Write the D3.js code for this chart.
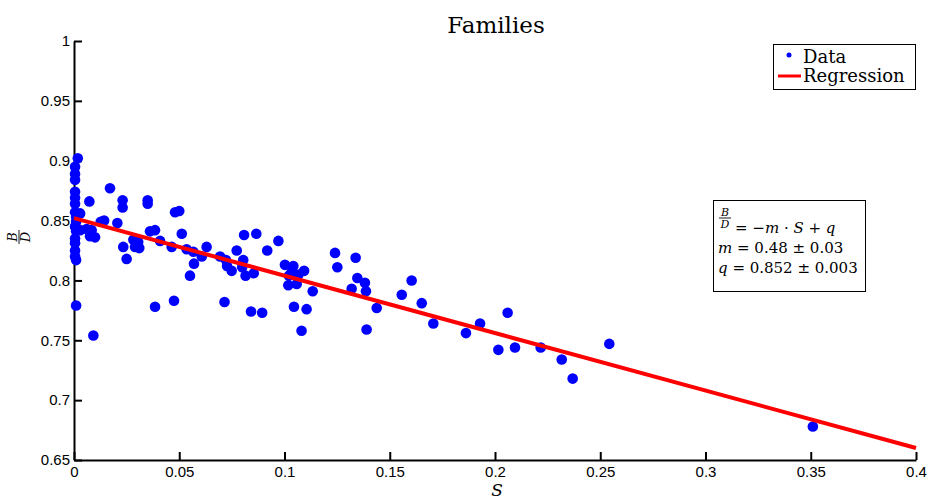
<!DOCTYPE html>
<html>
<head>
<meta charset="utf-8">
<script src="https://cdn.jsdelivr.net/npm/d3@7"></script>
<style>
  html, body { margin: 0; padding: 0; background: #fff; }
  svg { display: block; }
  .tick text { font-family: "Liberation Sans", Arial, sans-serif; font-size: 15px; fill: #000; }
</style>
</head>
<body>
<svg id="chart" width="931" height="499"></svg>
<script>
// S (share) and B/D ratio for each family
const sValues = [
  0.0018, 0.0005, 0.0005, 0.0005, 0.0005, 0.0005, 0.0005, 0.0005, 0.001, 0.001,
  0.0005, 0.001, 0.0005, 0.0005, 0.0005, 0.0005, 0.001, 0.001, 0.0092, 0.0029,
  0.0029, 0.006, 0.0084, 0.0076, 0.010, 0.0073, 0.0171, 0.0127, 0.0143, 0.0206,
  0.0231, 0.0231, 0.035, 0.035, 0.0234, 0.025, 0.0282, 0.0305, 0.029, 0.031,
  0.0361, 0.0385, 0.048, 0.050, 0.0409, 0.0464, 0.0512, 0.0535, 0.0567, 0.063,
  0.0607, 0.057, 0.0551, 0.0385, 0.0475, 0.0694, 0.0722, 0.0727, 0.0749, 0.0773,
  0.0808, 0.0866, 0.0804, 0.0799, 0.0815, 0.0854, 0.0918, 0.0971, 0.1002, 0.1042,
  0.1034, 0.1021, 0.1066, 0.1093, 0.1018, 0.1058, 0.1134, 0.0715, 0.0841, 0.0894,
  0.1045, 0.1105, 0.1081, 0.124, 0.1338, 0.1251, 0.1346, 0.1382, 0.1319, 0.1387,
  0.1438, 0.139, 0.1557, 0.1604, 0.1652, 0.1707, 0.1862, 0.1929, 0.206, 0.2016,
  0.2095, 0.2217, 0.2317, 0.2369, 0.2543, 0.351
];
const bdValues = [
  0.902, 0.895, 0.889, 0.884, 0.874, 0.869, 0.864, 0.857, 0.853, 0.849,
  0.845, 0.841, 0.835, 0.831, 0.825, 0.820, 0.817, 0.779, 0.754, 0.856,
  0.842, 0.843, 0.842, 0.837, 0.836, 0.866, 0.877, 0.849, 0.850, 0.848,
  0.867, 0.861, 0.867, 0.864, 0.828, 0.818, 0.834, 0.832, 0.828, 0.827,
  0.841, 0.842, 0.857, 0.858, 0.833, 0.828, 0.839, 0.826, 0.824, 0.828,
  0.820, 0.814, 0.804, 0.778, 0.783, 0.820, 0.817, 0.812, 0.808, 0.825,
  0.838, 0.839, 0.817, 0.811, 0.804, 0.806, 0.825, 0.833, 0.813, 0.812,
  0.807, 0.804, 0.805, 0.808, 0.796, 0.797, 0.791, 0.782, 0.774, 0.773,
  0.778, 0.776, 0.758, 0.823, 0.819, 0.811, 0.802, 0.798, 0.793, 0.791,
  0.777, 0.759, 0.788, 0.800, 0.781, 0.764, 0.756, 0.764, 0.773, 0.742,
  0.744, 0.744, 0.734, 0.718, 0.747, 0.678
];

// Fitted line B/D = -m*S + q
const slopeM = 0.48;
const interceptQ = 0.852;
const fitRange = [0, 0.4];

const xTicks = [0, 0.05, 0.1, 0.15, 0.2, 0.25, 0.3, 0.35, 0.4];
const yTicks = [0.65, 0.7, 0.75, 0.8, 0.85, 0.9, 0.95, 1];

const svg = d3.select("#chart");
const plotLeft = 74, plotRight = 916, plotTop = 41, plotBottom = 460;

const x = d3.scaleLinear().domain([0, 0.4]).range([plotLeft, plotRight]);
const y = d3.scaleLinear().domain([0.65, 1]).range([plotBottom, plotTop]);
const fmt = d => String(+d.toFixed(2));

// axes with inward ticks
const xAxis = svg.append("g")
  .attr("transform", `translate(0,${plotBottom})`)
  .call(d3.axisBottom(x).tickValues(xTicks).tickFormat(fmt)
    .tickSize(-8).tickSizeOuter(0).tickPadding(6));
const yAxis = svg.append("g")
  .attr("transform", `translate(${plotLeft},0)`)
  .call(d3.axisLeft(y).tickValues(yTicks).tickFormat(fmt)
    .tickSize(-8).tickSizeOuter(0).tickPadding(4));
[xAxis, yAxis].forEach(a => {
  a.select(".domain").attr("stroke", "#000").attr("stroke-width", 2);
  a.selectAll(".tick line").attr("stroke", "#000").attr("stroke-width", 2);
});

// data points
const points = sValues.map((s, i) => ({ s, bd: bdValues[i] }));
svg.append("g").selectAll("circle")
  .data(points)
  .join("circle")
  .attr("cx", d => x(d.s))
  .attr("cy", d => y(d.bd))
  .attr("r", 5.3)
  .attr("fill", "#0000ff");

// regression line
const line = d3.line().x(d => x(d)).y(d => y(-slopeM * d + interceptQ));
svg.append("path")
  .attr("d", line(fitRange))
  .attr("fill", "none")
  .attr("stroke", "#ff0000")
  .attr("stroke-width", 4);

// title and axis labels
svg.append("text")
  .attr("x", 496).attr("y", 33)
  .attr("text-anchor", "middle")
  .style("font-family", "'DejaVu Serif', serif")
  .style("font-size", "23px")
  .text("Families");

svg.append("text")
  .attr("x", 497).attr("y", 496)
  .attr("text-anchor", "middle")
  .style("font-family", "'DejaVu Serif', serif")
  .style("font-style", "italic")
  .style("font-size", "17px")
  .text("S");

// B/D fraction helper
function fraction(g, size, halfWidth) {
  g.append("text").attr("x", 0).attr("y", -2.5)
    .attr("text-anchor", "middle")
    .style("font-family", "'DejaVu Serif', serif")
    .style("font-style", "italic").style("font-size", size + "px")
    .text("B");
  g.append("line").attr("x1", -halfWidth).attr("x2", halfWidth)
    .attr("y1", 0).attr("y2", 0).attr("stroke", "#000").attr("stroke-width", 0.9);
  g.append("text").attr("x", 0).attr("y", size * 0.8 + 1)
    .attr("text-anchor", "middle")
    .style("font-family", "'DejaVu Serif', serif")
    .style("font-style", "italic").style("font-size", size + "px")
    .text("D");
}
fraction(svg.append("g").attr("transform", "translate(19,237) rotate(-90)"), 13, 7);

// legend
const legend = svg.append("g");
legend.append("rect")
  .attr("x", 773.5).attr("y", 44.5).attr("width", 142).attr("height", 45)
  .attr("fill", "#fff").attr("stroke", "#000").attr("stroke-width", 1);
legend.append("circle").attr("cx", 789).attr("cy", 55).attr("r", 2.5).attr("fill", "#0000ff");
legend.append("line").attr("x1", 778).attr("x2", 801).attr("y1", 76).attr("y2", 76)
  .attr("stroke", "#ff0000").attr("stroke-width", 3);
[["Data", 63], ["Regression", 82]].forEach(([t, yy]) => {
  legend.append("text").attr("x", 803).attr("y", yy)
    .style("font-family", "'DejaVu Serif', serif").style("font-size", "18px")
    .text(t);
});

// fit annotation box
const note = svg.append("g");
note.append("rect")
  .attr("x", 713.5).attr("y", 200.5).attr("width", 152).attr("height", 91)
  .attr("fill", "#fff").attr("stroke", "#000").attr("stroke-width", 1);
fraction(note.append("g").attr("transform", "translate(725,218)"), 11, 6);
const noteFont = "'DejaVu Serif', serif";
const eq = note.append("text").attr("x", 735).attr("y", 233)
  .style("font-family", noteFont).style("font-size", "15px");
eq.append("tspan").text(" = \u2212");
eq.append("tspan").style("font-style", "italic").text("m");
eq.append("tspan").text(" \u00b7 ");
eq.append("tspan").style("font-style", "italic").text("S");
eq.append("tspan").text(" + ");
eq.append("tspan").style("font-style", "italic").text("q");

const mLine = note.append("text").attr("x", 718).attr("y", 253)
  .style("font-family", noteFont).style("font-size", "15px");
mLine.append("tspan").style("font-style", "italic").text("m");
mLine.append("tspan").text(` = ${slopeM.toFixed(2)} \u00b1 0.03`);

const qLine = note.append("text").attr("x", 718).attr("y", 273)
  .style("font-family", noteFont).style("font-size", "15px");
qLine.append("tspan").style("font-style", "italic").text("q");
qLine.append("tspan").text(` = ${interceptQ.toFixed(3)} \u00b1 0.003`);
</script>
</body>
</html>
